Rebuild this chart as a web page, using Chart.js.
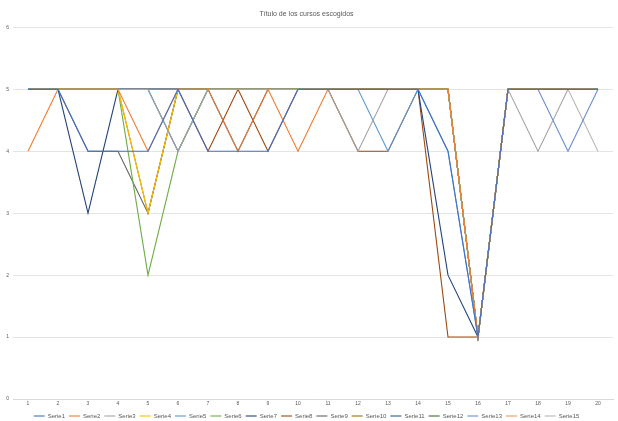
<!DOCTYPE html>
<html>
<head>
<meta charset="utf-8">
<script src="https://cdn.jsdelivr.net/npm/chart.js@4/dist/chart.umd.min.js"></script>
<style>
  html, body { margin: 0; padding: 0; background: #ffffff; }
  #wrap { width: 618px; height: 421px; position: relative; }
</style>
</head>
<body>
<div id="wrap"><canvas id="c"></canvas></div>
<script>
// Categories 1..20 along the x axis
const categories = ['1','2','3','4','5','6','7','8','9','10','11','12','13','14','15','16','17','18','19','20'];
const yTicks = [0, 1, 2, 3, 4, 5, 6];
const chartTitle = 'Título de los cursos escogidos';

const seriesNames = ['Serie1','Serie2','Serie3','Serie4','Serie5','Serie6','Serie7','Serie8',
                     'Serie9','Serie10','Serie11','Serie12','Serie13','Serie14','Serie15'];

const serie1  = [5,5,4,4,4,5,4,4,4,5,5,5,5,5,4,1,5,5,5,5];
const serie2  = [4,5,5,5,4,5,5,4,5,4,5,5,5,5,5,1,5,5,5,5];
const serie3  = [5,5,5,5,5,4,5,5,5,5,5,4,5,5,5,1,5,4,5,5];
const serie4  = [5,5,5,5,3,5,5,5,5,5,5,5,5,5,5,1,5,5,5,5];
const serie5  = [5,5,5,5,5,5,5,5,5,5,5,5,4,5,4,1,5,5,5,5];
const serie6  = [5,5,5,5,2,4,5,5,5,5,5,5,5,5,5,1,5,5,5,5];
const serie7  = [5,5,3,5,5,5,5,5,5,5,5,5,5,5,2,1,5,5,5,5];
const serie8  = [5,5,5,5,5,5,4,5,4,5,5,4,4,5,1,1,5,5,5,5];
const serie9  = [5,5,4,4,3,5,5,5,5,5,5,5,5,5,5,1,5,5,5,5];
const serie10 = [5,5,5,5,3,5,5,5,5,5,5,5,5,5,5,1,5,5,5,5];
const serie11 = [5,5,5,5,5,4,5,4,5,5,5,5,5,5,5,1,5,5,5,5];
const serie12 = [5,5,5,5,5,5,5,5,5,5,5,5,5,5,5,1,5,5,5,5];
const serie13 = [5,5,5,5,5,5,5,5,5,5,5,5,5,5,5,1,5,5,4,5];
const serie14 = [5,5,5,5,5,5,5,5,5,5,5,5,5,5,5,1,5,5,5,5];
const serie15 = [5,5,5,5,5,5,5,5,5,5,5,5,5,5,5,1,5,5,5,4];

const seriesValues = [serie1, serie2, serie3, serie4, serie5, serie6, serie7, serie8,
                      serie9, serie10, serie11, serie12, serie13, serie14, serie15];

const palette = ['#4472C4','#ED7D31','#A5A5A5','#FFC000','#5B9BD5','#70AD47',
                 '#264478','#9E480E','#636363','#997300','#255E91','#43682B',
                 '#698ED0','#F1975A','#B7B7B7'];

const datasets = seriesValues.map((vals, i) => ({
  label: seriesNames[i],
  data: vals,
  borderColor: palette[i],
  backgroundColor: palette[i],
  borderWidth: 1.1,
  pointRadius: 0,
  tension: 0,
  fill: false
}));

// Tighten the legend box so it sits close to the bottom edge
const compactLegend = {
  id: 'compactLegend',
  beforeLayout(chart) {
    const lg = chart.legend;
    if (lg && !lg._compact) {
      const fit = lg.fit;
      lg.fit = function () { fit.call(this); this.height -= 8; };
      lg._compact = true;
    }
  }
};

new Chart(document.getElementById('c'), {
  type: 'line',
  data: { labels: categories, datasets },
  plugins: [compactLegend],
  options: {
    responsive: true,
    maintainAspectRatio: false,
    animation: false,
    layout: { padding: { left: 0, right: 5, top: 0, bottom: 0 } },
    plugins: {
      title: {
        display: true,
        text: chartTitle,
        color: '#595959',
        font: { family: 'Liberation Sans', size: 7, weight: 'normal' },
        padding: { top: 10, bottom: 9 }
      },
      legend: {
        position: 'bottom',
        labels: {
          color: '#595959',
          font: { family: 'Liberation Sans', size: 6 },
          usePointStyle: true,
          pointStyle: 'line',
          pointStyleWidth: 11,
          padding: 4
        }
      },
      tooltip: { enabled: false }
    },
    scales: {
      x: {
        offset: true,
        grid: { display: false, drawTicks: false },
        border: { display: true, color: '#D9D9D9' },
        ticks: {
          color: '#595959',
          font: { family: 'Liberation Sans', size: 5 },
          maxRotation: 0,
          autoSkip: false,
          padding: 2
        }
      },
      y: {
        min: yTicks[0],
        max: yTicks[yTicks.length - 1],
        afterFit: (s) => { s.width = 13; },
        grid: { color: '#E4E4E4', lineWidth: 1, drawTicks: false },
        border: { display: false },
        ticks: {
          stepSize: 1,
          color: '#595959',
          font: { family: 'Liberation Sans', size: 5 },
          padding: 4
        }
      }
    }
  }
});
</script>
</body>
</html>
